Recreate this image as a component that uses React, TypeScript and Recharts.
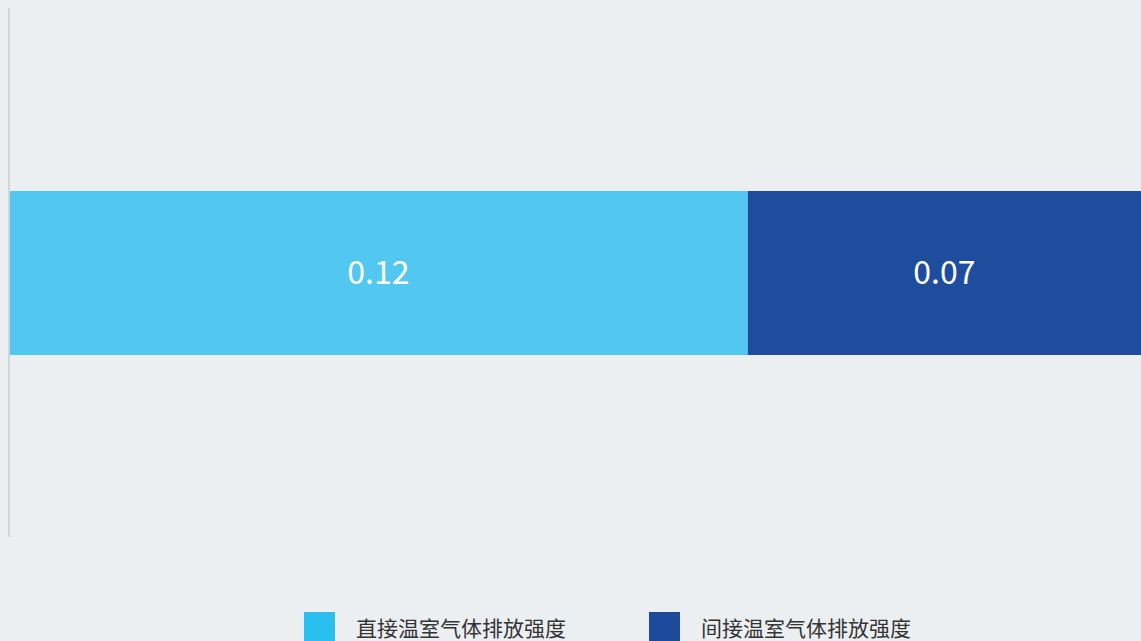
import { BarChart, Bar, XAxis, YAxis, LabelList } from 'recharts';

const categories = ['温室气体排放强度'];
const directValues = [0.124];
const indirectValues = [0.066];
const seriesNames = ['直接温室气体排放强度', '间接温室气体排放强度'];
const seriesColors = ['#52C7F0', '#1F4D9E'];
const legendColors = ['#29C0F0', '#1E4A9B'];

const data = categories.map((name, i) => ({
  name,
  direct: directValues[i],
  indirect: indirectValues[i],
}));

const FONT = '"Noto Sans CJK SC", "Noto Sans", sans-serif';

const fmt = (v: unknown) => Number(v).toFixed(2);

export default function App() {
  return (
    <div
      style={{
        position: 'absolute',
        left: 0,
        top: 0,
        width: 1141,
        height: 641,
        background: '#ECEFF1',
        fontFamily: FONT,
        overflow: 'hidden',
      }}
    >
      <BarChart
        width={1141}
        height={641}
        data={data}
        layout="vertical"
        margin={{ top: 8, right: 0, left: 7, bottom: 104 }}
      >
        <XAxis type="number" hide domain={[0, 'dataMax']} />
        <YAxis
          type="category"
          dataKey="name"
          width={2}
          tick={false}
          tickLine={false}
          axisLine={{ stroke: '#D3D6D8', strokeWidth: 2 }}
        />
        <Bar dataKey="direct" stackId="a" fill={seriesColors[0]} barSize={164} isAnimationActive={false}>
          <LabelList
            dataKey="direct"
            position="center"
            formatter={fmt}
            style={{ fill: '#ffffff', fontSize: 32, fontFamily: FONT }}
          />
        </Bar>
        <Bar dataKey="indirect" stackId="a" fill={seriesColors[1]} barSize={164} isAnimationActive={false}>
          <LabelList
            dataKey="indirect"
            position="center"
            formatter={fmt}
            style={{ fill: '#ffffff', fontSize: 32, fontFamily: FONT }}
          />
        </Bar>
      </BarChart>
      {seriesNames.map((n, i) => (
        <div
          key={n}
          style={{
            position: 'absolute',
            left: i === 0 ? 304 : 649,
            top: 612,
            display: 'flex',
            alignItems: 'center',
            height: 31,
          }}
        >
          <div style={{ width: 31, height: 31, background: legendColors[i] }} />
          <span style={{ marginLeft: 21, fontSize: 21, color: '#333333', lineHeight: '31px' }}>{n}</span>
        </div>
      ))}
    </div>
  );
}
